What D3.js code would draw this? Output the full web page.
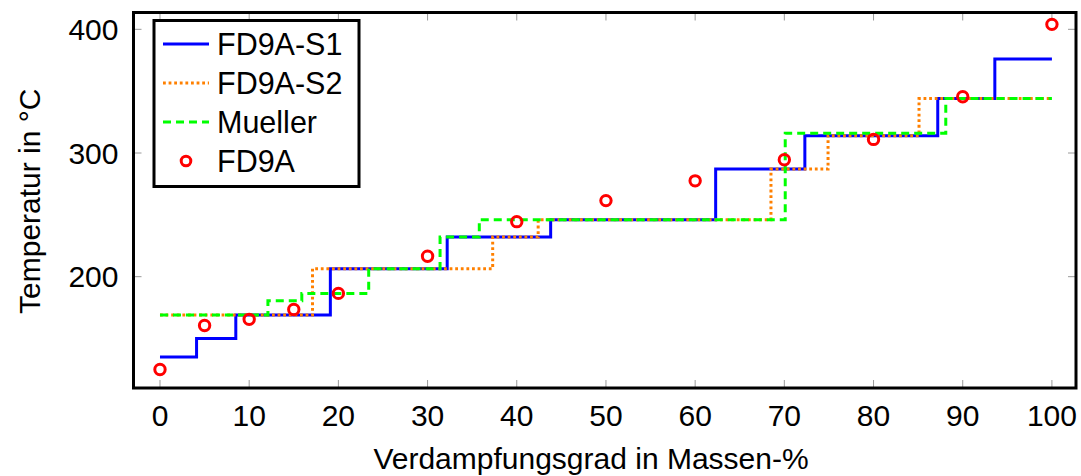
<!DOCTYPE html>
<html>
<head>
<meta charset="utf-8">
<script src="https://cdn.jsdelivr.net/npm/d3@7"></script>
<style>
  html, body { margin: 0; padding: 0; background: #fff; }
  svg { display: block; font-family: "Liberation Sans", Arial, Helvetica, sans-serif; }
</style>
</head>
<body>
<svg id="chart" width="1081" height="476"></svg>
<script>
// Siedeverlauf: Temperatur über Verdampfungsgrad

// FD9A-S1 (Treppenfunktion, Stufe beginnt beim x-Wert)
const s1X = [0, 4.1, 8.5, 19.1, 32.2, 43.8, 62.3, 72.3, 87.2, 93.6, 100];
const s1Y = [135, 150, 169, 206.5, 232, 246, 287, 314, 344, 376, 376];

// FD9A-S2
const s2X = [0, 17.1, 37.3, 42.4, 68.5, 74.9, 85.1, 100];
const s2Y = [169, 206.5, 232, 246, 287, 314, 344, 344];

// Mueller
const muX = [0, 12.1, 15.9, 23.4, 31.4, 35.8, 70.1, 88.1, 100];
const muY = [169, 180.5, 186.5, 206.5, 232, 246, 316, 344, 344];

// FD9A Messpunkte
const fdX = [0, 5, 10, 15, 20, 30, 40, 50, 60, 70, 80, 90, 100];
const fdY = [125, 160.5, 165.5, 173.5, 186.5, 216.5, 244.5, 261.5, 277.5, 294.5, 311, 345.5, 404];

const xTicks = [0, 10, 20, 30, 40, 50, 60, 70, 80, 90, 100];
const yTicks = [200, 300, 400];

const legendLabels = ["FD9A-S1", "FD9A-S2", "Mueller", "FD9A"];

const svg = d3.select("#chart");
const box = { left: 133.5, right: 1076, top: 12.5, bottom: 388 };

const x = d3.scaleLinear().domain([-2.97, 102.7]).range([box.left, box.right]);
const y = d3.scaleLinear().domain([110, 413.6]).range([box.bottom, box.top]);

const FS = 30;
const FS_LEGEND = 30.5;
const tickGray = "#9a9a9a";

// Ticks (innen, auf allen vier Seiten)
const tickLen = 8;
const gx = svg.append("g");
xTicks.forEach(t => {
  gx.append("line").attr("x1", x(t)).attr("x2", x(t))
    .attr("y1", box.bottom).attr("y2", box.bottom - tickLen)
    .attr("stroke", tickGray).attr("stroke-width", 1);
  gx.append("line").attr("x1", x(t)).attr("x2", x(t))
    .attr("y1", box.top).attr("y2", box.top + tickLen)
    .attr("stroke", tickGray).attr("stroke-width", 1);
  gx.append("text").attr("x", x(t)).attr("y", 425.5)
    .attr("text-anchor", "middle").attr("font-size", FS).attr("fill", "#000")
    .text(t);
});
yTicks.forEach(t => {
  gx.append("line").attr("x1", box.left).attr("x2", box.left + tickLen)
    .attr("y1", y(t)).attr("y2", y(t))
    .attr("stroke", tickGray).attr("stroke-width", 1);
  gx.append("line").attr("x1", box.right).attr("x2", box.right - tickLen)
    .attr("y1", y(t)).attr("y2", y(t))
    .attr("stroke", tickGray).attr("stroke-width", 1);
  gx.append("text").attr("x", 118.5).attr("y", y(t)).attr("dy", "0.36em")
    .attr("text-anchor", "end").attr("font-size", FS).attr("fill", "#000")
    .text(t);
});

// Achsentitel
svg.append("text").attr("x", 591).attr("y", 468.5)
  .attr("text-anchor", "middle").attr("font-size", FS)
  .text("Verdampfungsgrad in Massen-%");
svg.append("text")
  .attr("transform", `translate(40,${(box.top + box.bottom) / 2 + 1}) rotate(-90)`)
  .attr("text-anchor", "middle").attr("font-size", FS)
  .text("Temperatur in °C");

// Kurven
const plot = svg.append("g");
const stepLine = d3.line().x(d => x(d[0])).y(d => y(d[1])).curve(d3.curveStepAfter);
const series = [
  { xs: s1X, ys: s1Y, color: "#0000ff", dash: null },
  { xs: s2X, ys: s2Y, color: "#ff8000", dash: "2.8,2.8" },
  { xs: muX, ys: muY, color: "#00ff00", dash: "8,5" }
];
series.forEach(s => {
  plot.append("path")
    .attr("d", stepLine(d3.zip(s.xs, s.ys)))
    .attr("fill", "none").attr("stroke", s.color).attr("stroke-width", 3)
    .attr("stroke-dasharray", s.dash);
});
plot.selectAll("circle.fd").data(d3.zip(fdX, fdY)).join("circle")
  .attr("class", "fd")
  .attr("cx", d => x(d[0])).attr("cy", d => y(d[1])).attr("r", 5.2)
  .attr("fill", "none").attr("stroke", "#ff0000").attr("stroke-width", 3);

// Rahmen
svg.append("rect").attr("x", box.left).attr("y", box.top)
  .attr("width", box.right - box.left).attr("height", box.bottom - box.top)
  .attr("fill", "none").attr("stroke", "#000").attr("stroke-width", 3);

// Legende
const lg = svg.append("g");
lg.append("rect").attr("x", 154).attr("y", 20.5).attr("width", 205).attr("height", 166)
  .attr("fill", "#fff").attr("stroke", "#000").attr("stroke-width", 3);
const rowY = [44, 83, 122, 161];
series.forEach((s, i) => {
  lg.append("line").attr("x1", 163).attr("x2", 209)
    .attr("y1", rowY[i]).attr("y2", rowY[i])
    .attr("stroke", s.color).attr("stroke-width", 3)
    .attr("stroke-dasharray", s.dash);
});
lg.append("circle").attr("cx", 186).attr("cy", rowY[3]).attr("r", 4.8)
  .attr("fill", "none").attr("stroke", "#ff0000").attr("stroke-width", 3);
legendLabels.forEach((t, i) => {
  lg.append("text").attr("x", 217).attr("y", rowY[i]).attr("dy", "0.36em")
    .attr("font-size", FS_LEGEND).text(t);
});
</script>
</body>
</html>
